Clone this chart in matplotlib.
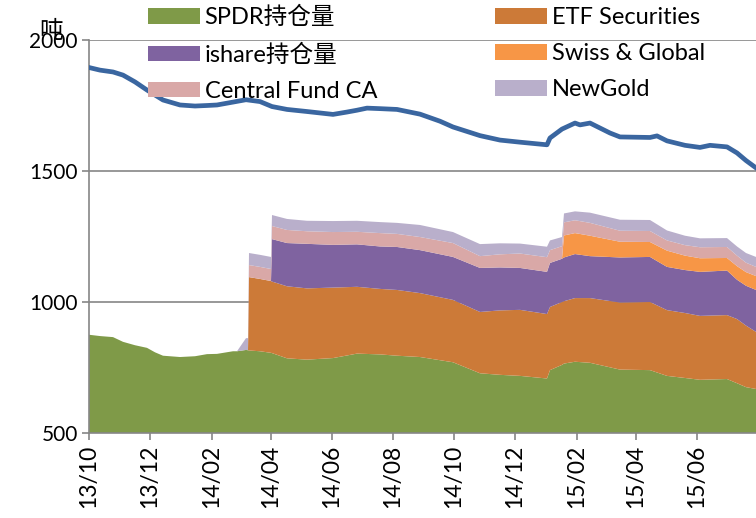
import matplotlib
matplotlib.use('Agg')
import matplotlib.pyplot as plt
import matplotlib.dates as mdates
import pandas as pd

plt.rcParams['font.family'] = ['Lato', 'Noto Sans CJK SC', 'DejaVu Sans']

# ---- 数据 ----
dates = pd.to_datetime([
    '2013-10-01', '2013-10-12', '2013-10-25', '2013-11-04', '2013-11-16', '2013-11-28',
    '2013-12-06', '2013-12-14', '2013-12-31', '2014-01-15', '2014-01-27', '2014-02-06',
    '2014-02-22', '2014-02-26', '2014-03-07', '2014-03-09', '2014-03-10', '2014-03-21',
    '2014-04-01', '2014-04-02', '2014-04-17', '2014-05-07', '2014-06-02', '2014-06-26',
    '2014-07-19', '2014-08-05', '2014-08-28', '2014-09-30', '2014-10-27', '2014-11-16',
    '2014-12-06', '2015-01-02', '2015-01-05', '2015-01-17', '2015-01-19', '2015-01-30',
    '2015-02-14', '2015-03-16', '2015-04-15', '2015-05-02', '2015-05-20', '2015-06-04',
    '2015-07-01', '2015-07-11', '2015-07-20', '2015-07-30'])

spdr = [875, 870, 866, 848, 835, 825, 808, 795, 790, 793, 801, 802,
        812, 812, 817, 816, 815, 812, 806, 805, 785, 780, 786, 803,
        800, 795, 790, 770, 728, 722, 718, 708, 740, 760, 765, 772,
        768, 742, 740, 718, 710, 703, 706, 690, 675, 668]
etf_sec = [0] * 16 + [280, 276, 274, 273, 275, 272, 269, 255,
                      250, 251, 244, 238, 234, 246, 252, 246, 241, 240, 238, 243,
                      247, 256, 260, 251, 248, 244, 244, 245, 235, 218]
ishare = [0] * 19 + [162, 165, 170, 163, 162,
                     162, 164, 164, 164, 168, 164, 160, 161, 168, 165, 167, 168,
                     160, 172, 172, 165, 164, 168, 170, 150, 152, 160]
swiss = [0] * 34 + [84, 80, 78, 60, 57, 62, 55, 52, 48, 52, 52, 53]
central = [0] * 16 + [46, 46, 46, 50, 50, 48, 49, 48,
                      51, 50, 50, 53, 45, 50, 55, 56, 49, 48, 50, 49,
                      49, 42, 42, 39, 40, 42, 42, 40, 36, 35]
newgold = [0] * 14 + [45, 46, 46, 46, 46, 42, 42, 40, 42, 42,
                      42, 42, 46, 42, 46, 42, 38, 40, 37, 35, 34, 34,
                      39, 42, 42, 38, 36, 34, 34, 35, 37, 38]

total_dates = pd.to_datetime([
    '2013-10-01', '2013-10-12', '2013-10-25', '2013-11-04', '2013-11-16', '2013-11-28',
    '2013-12-06', '2013-12-14', '2013-12-31', '2014-01-15', '2014-01-27', '2014-02-06',
    '2014-02-22', '2014-03-07', '2014-03-21', '2014-04-02', '2014-04-17', '2014-05-07',
    '2014-06-02', '2014-06-16', '2014-06-26', '2014-07-06', '2014-07-19', '2014-08-05',
    '2014-08-28', '2014-09-17', '2014-09-30', '2014-10-27', '2014-11-16', '2014-12-06',
    '2015-01-02', '2015-01-05', '2015-01-17', '2015-01-30', '2015-02-04', '2015-02-14',
    '2015-03-06', '2015-03-16', '2015-04-15', '2015-04-22', '2015-05-02', '2015-05-20',
    '2015-06-04', '2015-06-14', '2015-07-01', '2015-07-11', '2015-07-20', '2015-07-30'])
total = [1895, 1885, 1878, 1866, 1840, 1809, 1790, 1771, 1752, 1748, 1750, 1752,
         1763, 1772, 1765, 1746, 1735, 1727, 1716, 1725, 1732, 1740, 1738, 1735,
         1717, 1690, 1668, 1635, 1618, 1610, 1600, 1626, 1660, 1683, 1676, 1683,
         1645, 1630, 1628, 1634, 1615, 1598, 1590, 1598, 1592, 1569, 1540, 1512]

labels = ['SPDR持仓量', 'ETF Securities', 'ishare持仓量', 'Swiss & Global',
          'Central Fund CA', 'NewGold']
colors = ['#7F9A48', '#CC7A38', '#7F63A0', '#F79646', '#D9A8A7', '#B9AFCB']

# ---- 绘图 ----
fig = plt.figure(figsize=(7.56, 5.18), dpi=100)
ax = fig.add_axes([89 / 756, 1 - 433 / 518, 1 - 89 / 756, 393 / 518])

polys = ax.stackplot(dates, spdr, etf_sec, ishare, swiss, central, newgold,
                     colors=colors, labels=labels, linewidth=0)
ax.plot(total_dates, total, color='#3A66A0', linewidth=3.4, zorder=3)

ax.set_ylim(500, 2000)
ax.set_yticks([500, 1000, 1500, 2000])
ax.set_xlim(pd.Timestamp('2013-10-01'), pd.Timestamp('2015-07-30'))
ax.xaxis.set_major_locator(mdates.MonthLocator(bymonth=[2, 4, 6, 8, 10, 12]))
ax.xaxis.set_major_formatter(mdates.DateFormatter('%y/%m'))
plt.setp(ax.get_xticklabels(), rotation=90)

grid_c = '#868686'
ax.grid(axis='y', color=grid_c, linewidth=1.2)
ax.set_axisbelow(True)
for s in ['top', 'right']:
    ax.spines[s].set_visible(False)
for s in ['left', 'bottom']:
    ax.spines[s].set_color(grid_c)
    ax.spines[s].set_linewidth(1.2)
ax.tick_params(axis='both', colors=grid_c, labelcolor='black', labelsize=15,
               length=5, width=1.2)
ax.tick_params(axis='x', labelsize=16.5)
ax.tick_params(axis='y', pad=3)

fig.text(51 / 756, 1 - 31 / 518, '吨', fontsize=17, ha='center', va='center')

order = [0, 2, 4, 1, 3, 5]
leg = fig.legend([polys[i] for i in order], [labels[i] for i in order],
                 ncol=2, loc='upper left', bbox_to_anchor=(148 / 756, 1 - 6 / 518),
                 frameon=False, fontsize=17, handlelength=2.2, handleheight=0.64,
                 handletextpad=0.2, columnspacing=5.0, labelspacing=0.64,
                 borderpad=0, borderaxespad=0)

fig.savefig('out.png', dpi=100)
